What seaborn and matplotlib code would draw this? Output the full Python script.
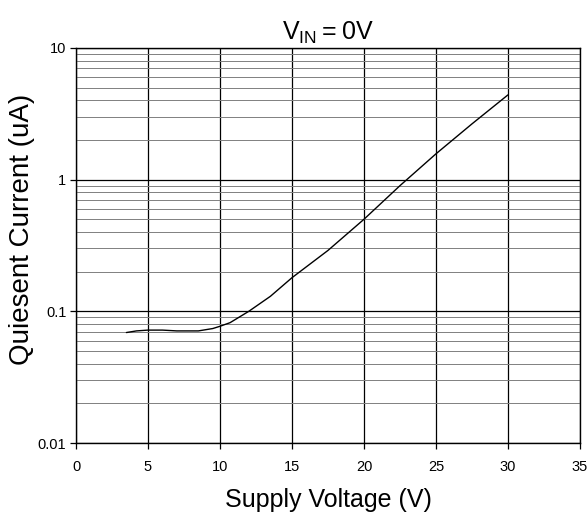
import matplotlib
matplotlib.use("Agg")
import matplotlib.pyplot as plt
import seaborn as sns
import numpy as np
import pandas as pd
from matplotlib.ticker import FixedLocator, LogLocator, NullFormatter

# data
supply_v = [3.5, 4.2, 5.0, 6.0, 7.0, 8.5, 9.5, 10.0, 10.7, 12.0, 13.5, 15.0, 17.5, 20.0, 22.5, 25.0, 27.5, 30.0]
current_ua = [0.069, 0.071, 0.072, 0.072, 0.071, 0.071, 0.074, 0.077, 0.082, 0.10, 0.13, 0.18, 0.29, 0.50, 0.90, 1.57, 2.65, 4.4]
x_ticks = [0, 5, 10, 15, 20, 25, 30, 35]
y_ticks = [0.01, 0.1, 1, 10]
y_labels = ["0.01", "0.1", "1", "10"]

df = pd.DataFrame({"v": supply_v, "i": current_ua})

sns.set_style("white")
plt.rcParams['font.family'] = ['Liberation Sans Narrow', 'Liberation Sans', 'DejaVu Sans']
plt.rcParams['mathtext.fontset'] = 'custom'
plt.rcParams['mathtext.rm'] = 'Liberation Sans'
plt.rcParams['text.color'] = 'black'
plt.rcParams['axes.labelcolor'] = 'black'
plt.rcParams['xtick.color'] = 'black'
plt.rcParams['ytick.color'] = 'black'

fig = plt.figure(figsize=(5.87, 5.21), dpi=100)
ax = fig.add_axes([0.1295, 0.1497, 0.8585, 0.7583])

sns.lineplot(data=df, x="v", y="i", color="black", linewidth=1.0, ax=ax)

ax.set_yscale("log")
ax.set_xlim(0, 35)
ax.set_ylim(0.01, 10)

ax.xaxis.set_major_locator(FixedLocator(x_ticks))
ax.set_xticklabels([str(t) for t in x_ticks])
ax.yaxis.set_major_locator(FixedLocator(y_ticks))
ax.set_yticklabels(y_labels)
ax.yaxis.set_minor_locator(LogLocator(base=10, subs=np.arange(2, 10)))
ax.yaxis.set_minor_formatter(NullFormatter())

ax.grid(True, which="major", axis="both", color="black", linewidth=0.9)
ax.grid(True, which="minor", axis="y", color="#808080", linewidth=0.7)
ax.set_axisbelow(True)

for s in ax.spines.values():
    s.set_color("black")
    s.set_linewidth(1.0)

ax.tick_params(axis="both", which="major", direction="out", length=4, width=0.9,
               color="black", labelcolor="black", labelsize=10.5, pad=3)
ax.tick_params(axis="x", pad=8)
ax.tick_params(axis="y", which="minor", length=0)
ax.tick_params(left=True, bottom=True)

ax.set_xlabel("Supply Voltage (V)", fontsize=18, labelpad=10, color="black")
ax.set_ylabel("Quiesent Current (uA)", fontsize=20, color="black")
ax.yaxis.set_label_coords(-0.082, 0.54)
ax.set_title(r"$\mathregular{V_{IN} = 0V}$", fontsize=18, pad=6, color="black")

fig.savefig("out.png", dpi=100)
